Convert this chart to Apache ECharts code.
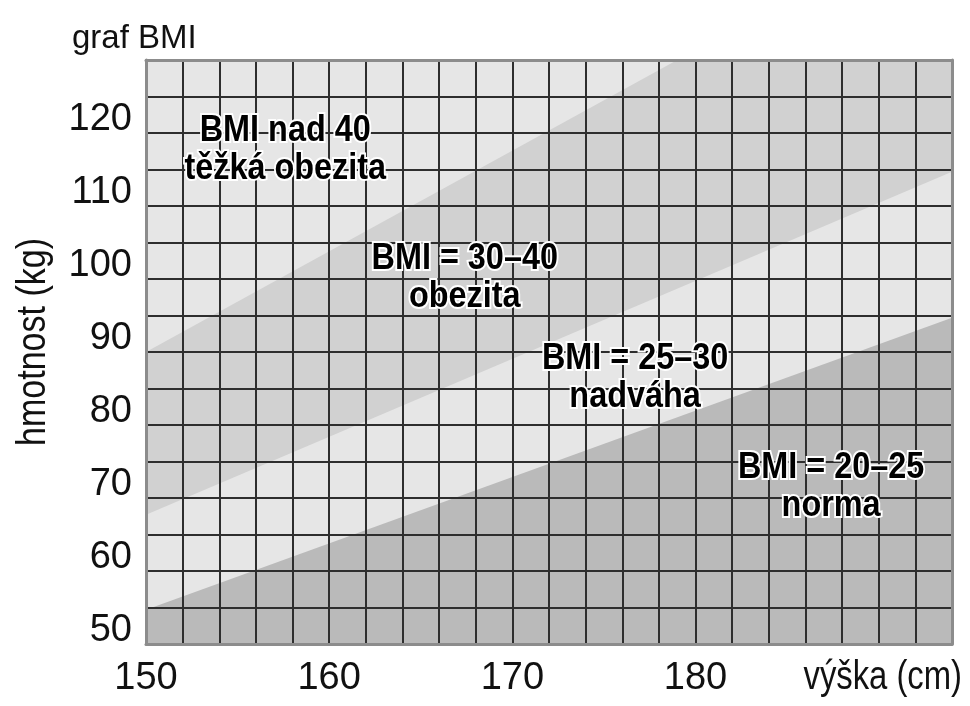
<!DOCTYPE html>
<html>
<head>
<meta charset="utf-8">
<script src="https://cdn.jsdelivr.net/npm/echarts@6/dist/echarts.min.js"></script>
<style>html,body{margin:0;padding:0;background:#fff}#c{width:970px;height:706px}</style>
</head>
<body>
<div id="c"></div>
<script>
// ---- data ----
const heightRange = [150, 194];          // cm
const weightRange = [50, 130];           // kg
const xLabelTicks = [150, 160, 170, 180];
const yLabelTicks = [50, 60, 70, 80, 90, 100, 110, 120];
// boundary lines [height cm, weight kg]
const bmi40Line = [[150, 90.0], [179, 130], [194, 130]];
const bmi30Line = [[150, 67.7], [194, 114.7]];
const bmi25Line = [[150, 54.7], [194, 94.7]];
const zoneNames = ['BMI nad 40\ntěžká obezita', 'BMI = 30–40\nobezita', 'BMI = 25–30\nnadváha', 'BMI = 20–25\nnorma'];
const zoneAnchors = [[157.6, 117.7], [167.4, 100.1], [176.7, 86.4], [187.4, 71.5]];

const SANS = '"Liberation Sans", Arial, sans-serif';
const LIGHT = '#e6e6e6', MEDIUM = '#d1d1d1', DARK = '#bababa';
const GRIDLINE = '#2e2e2e', FRAME = '#8c8c8c';

const chart = echarts.init(document.getElementById('c'), null, {renderer: 'canvas'});

function areaSeries(data, color) {
  return {
    type: 'line', data: data, xAxisIndex: 0, yAxisIndex: 0,
    symbol: 'none', silent: true, z: 1,
    lineStyle: {width: 0, opacity: 0},
    areaStyle: {color: color, opacity: 1, origin: 'start'}
  };
}

chart.setOption({
  animation: false,
  backgroundColor: '#fff',
  title: {
    text: 'graf BMI', left: 67, top: 17,
    textStyle: {fontFamily: SANS, fontWeight: 'normal', fontSize: 33, color: '#111'}
  },
  grid: {left: 146, top: 60, width: 806, height: 584, show: true, backgroundColor: LIGHT, borderWidth: 0},
  xAxis: [{
    type: 'value', min: heightRange[0], max: heightRange[1], interval: 2, z: 5,
    axisLine: {show: true, lineStyle: {color: FRAME, width: 3}},
    axisTick: {show: false},
    splitLine: {show: true, showMinLine: false, showMaxLine: false, lineStyle: {color: GRIDLINE, width: 2}},
    axisLabel: {
      margin: 16, fontFamily: SANS, fontSize: 38, color: '#111',
      formatter: v => xLabelTicks.indexOf(v) >= 0 ? String(v) : ''
    }
  }, {
    type: 'value', position: 'top', min: heightRange[0], max: heightRange[1], z: 6,
    axisLine: {show: true, lineStyle: {color: FRAME, width: 3}},
    axisTick: {show: false}, axisLabel: {show: false}, splitLine: {show: false}
  }],
  yAxis: [{
    type: 'value', min: weightRange[0], max: weightRange[1], interval: 5, z: 5,
    axisLine: {show: true, lineStyle: {color: FRAME, width: 3}},
    axisTick: {show: false},
    splitLine: {show: true, showMinLine: false, showMaxLine: false, lineStyle: {color: GRIDLINE, width: 2}},
    axisLabel: {
      margin: 14, fontFamily: SANS, fontSize: 38, color: '#111', verticalAlign: 'bottom',
      lineHeight: 27,
      formatter: v => yLabelTicks.indexOf(v) >= 0 ? String(v) : ''
    }
  }, {
    type: 'value', position: 'right', min: weightRange[0], max: weightRange[1], z: 6,
    axisLine: {show: true, lineStyle: {color: FRAME, width: 3}},
    axisTick: {show: false}, axisLabel: {show: false}, splitLine: {show: false}
  }],
  graphic: [{
    type: 'text', x: 34, y: 342, rotation: Math.PI / 2, scaleX: 0.83,
    style: {text: 'hmotnost (kg)', font: '41px ' + SANS, fill: '#111', align: 'center', verticalAlign: 'middle'}
  }, {
    type: 'text', x: 962, y: 678, scaleX: 0.82,
    style: {text: 'výška (cm)', font: '40px ' + SANS, fill: '#111', align: 'right', verticalAlign: 'middle'}
  }],
  series: [
    areaSeries(bmi40Line, MEDIUM),
    areaSeries(bmi30Line, LIGHT),
    areaSeries(bmi25Line, DARK),
    {
      type: 'custom', xAxisIndex: 0, yAxisIndex: 0, silent: true, z: 10, clip: false,
      data: zoneAnchors,
      encode: {x: 0, y: 1},
      renderItem: function (params, api) {
        const pt = api.coord([api.value(0), api.value(1)]);
        return {
          type: 'text', x: pt[0], y: pt[1], scaleX: 0.9,
          style: {
            text: zoneNames[params.dataIndex], font: 'bold 36px ' + SANS, lineHeight: 38,
            fill: '#000', stroke: '#fff', lineWidth: 4, strokeFirst: true,
            align: 'center', verticalAlign: 'middle'
          }
        };
      }
    }
  ]
});
</script>
</body>
</html>
